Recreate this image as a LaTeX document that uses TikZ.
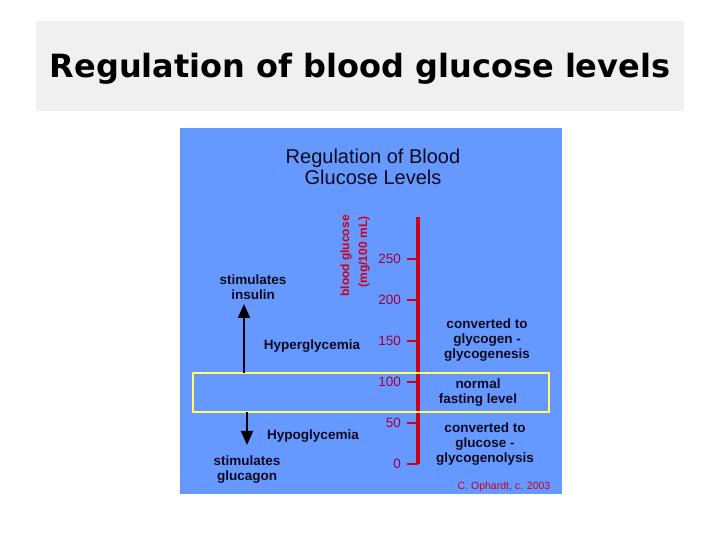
\documentclass[tikz,border=0pt]{standalone}
\usepackage{fontspec}
\setmainfont{Liberation Sans}
\newfontfamily\titlefont{DejaVu Sans}
\usetikzlibrary{arrows.meta}
\definecolor{hdrgray}{RGB}{240,240,240}
\definecolor{panelblue}{RGB}{102,153,255}
\definecolor{axisred}{RGB}{204,0,24}
\definecolor{ticklab}{RGB}{160,0,60}
\definecolor{boxyellow}{RGB}{255,255,102}
\definecolor{txt}{RGB}{10,10,30}
\tikzset{
  lbl/.style={font=\bfseries\fontsize{13.5}{15}\selectfont, text=txt, align=center, inner sep=0pt},
  ticklbl/.style={font=\fontsize{13.5}{15}\selectfont, text=ticklab, anchor=east, inner sep=0pt},
  tickline/.style={draw=axisred, line width=2.5pt},
  bigarrow/.style={draw=black, line width=2pt, -{Triangle[width=12pt,length=14pt]}}
}
\begin{document}
\begin{tikzpicture}[x=1pt,y=1pt]
\useasboundingbox (0,0) rectangle (720,540);
\fill[white] (0,0) rectangle (720,540);
% header
\fill[hdrgray] (36,429) rectangle (684,519);
\node[font=\titlefont\bfseries\fontsize{32}{36}\selectfont, inner sep=0pt] (title) at (360,471) {Regulation of blood glucose levels};
% panel
\fill[panelblue] (180,46) rectangle (562,412);
\node[font=\fontsize{20}{21}\selectfont, text=txt, align=center, inner sep=0pt] (ptitle) at (373,373) {Regulation of Blood\\Glucose Levels};
% axis
\coordinate (atop) at (418,323);
\coordinate (abot) at (418,76);
\draw[axisred, line width=4pt] (atop) -- (abot);
\foreach \v/\y in {250/281,200/240,150/199,100/158,50/117,0/76}{
  \coordinate (t\v) at (418,\y);
  \draw[tickline] ([xshift=-11pt]t\v) -- (t\v);
  \node[ticklbl] (l\v) at (401,\y) {\v};
}
% axis label
\node[rotate=90, font=\bfseries\fontsize{12}{14}\selectfont, text=axisred, inner sep=0pt] (al1) at (346,284) {blood glucose};
\node[rotate=90, font=\bfseries\fontsize{12}{14}\selectfont, text=axisred, inner sep=0pt] (al2) at (364,288) {(mg/100 mL)};
% yellow box
\draw[boxyellow, line width=2pt] (193,128) rectangle (549,167);
% left labels
\node[lbl] (ins) at (253,253) {stimulates\\insulin};
\coordinate (upstart) at (244,167);
\coordinate (uptip) at (244,236);
\draw[bigarrow] (upstart) -- (uptip);
\node[lbl] (hyper) at (312,194) {Hyperglycemia};
\coordinate (dnstart) at (247,128);
\coordinate (dntip) at (247,95);
\draw[bigarrow] (dnstart) -- (dntip);
\node[lbl] (hypo) at (313,104) {Hypoglycemia};
\node[lbl] (gluc) at (247,70) {stimulates\\glucagon};
% right labels
\node[lbl] (gen) at (487,200) {converted to\\glycogen -\\glycogenesis};
\node[lbl] (norm) at (478,147) {normal\\fasting level};
\node[lbl] (lys) at (485,96) {converted to\\glucose -\\glycogenolysis};
\node[font=\fontsize{10.5}{12}\selectfont, text=axisred, inner sep=0pt] (copy) at (504,53) {C. Ophardt, c. 2003};
\end{tikzpicture}
\end{document}
